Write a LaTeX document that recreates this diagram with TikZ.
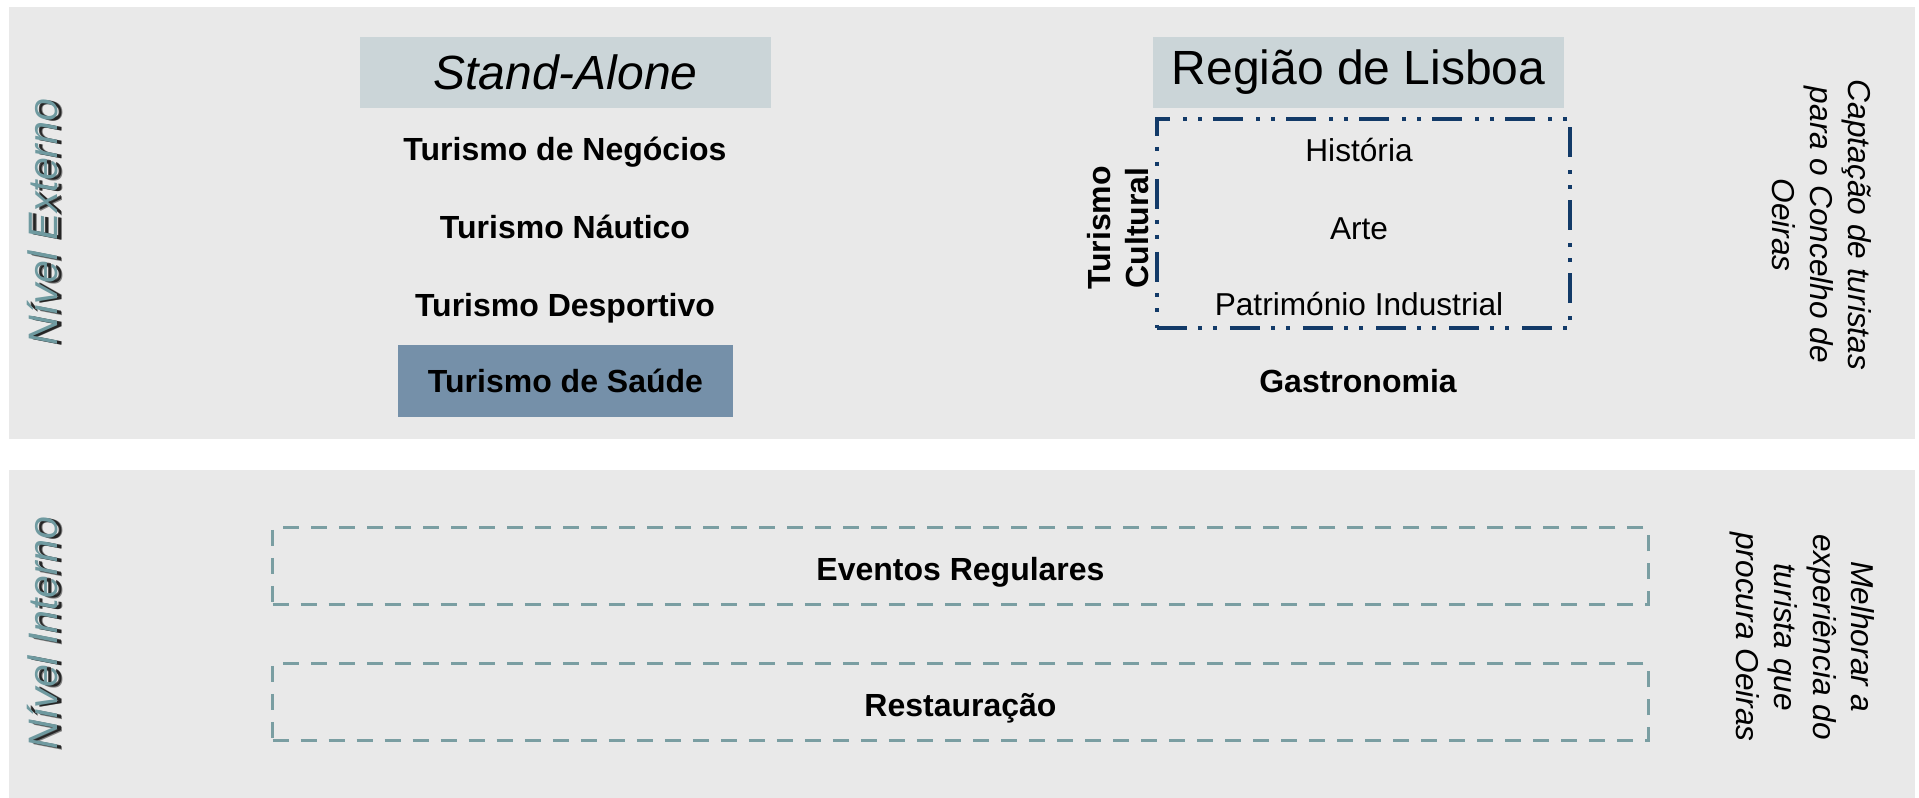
\documentclass[tikz,border=0pt]{standalone}
\usepackage{fontspec}
\setmainfont{Liberation Sans}
\definecolor{painel}{RGB}{233,233,233}
\definecolor{cabec}{RGB}{203,213,216}
\definecolor{saude}{RGB}{117,144,169}
\definecolor{marinho}{RGB}{18,58,104}
\definecolor{tracejado}{RGB}{122,158,162}
\definecolor{nivelcor}{RGB}{111,154,160}
\def\painel{\fill[painel]}
\def\fsz#1#2{\fontsize{#1}{#2}\selectfont}
\tikzset{
  item/.style={inner sep=0pt,font=\fsz{9.1}{10.5}\bfseries},
  sub/.style={inner sep=0pt,font=\fsz{9}{10.5}},
  cabecalho/.style={fill=cabec,inner sep=0pt,minimum width=4.11cm,minimum height=0.71cm,font=\fsz{13.65}{16}},
  nivel/.style={rotate=90,inner sep=0pt,text=nivelcor,font=\fsz{11.7}{14}\itshape},
  sombra/.style={nivel,text=black,opacity=#1},
  objetivo/.style={rotate=-90,inner sep=0pt,align=center,font=\fsz{9}{#1}\itshape},
  caixa/.style={draw=tracejado,line width=0.03cm,dash pattern=on 0.16cm off 0.12cm,minimum width=13.75cm,minimum height=0.76cm,inner sep=0pt}
}
\begin{document}
\begin{tikzpicture}[x=0.01cm,y=-0.01cm]
\useasboundingbox (0,0) rectangle (1919,798);
\painel (9,7) rectangle (1915,439);
\painel (9,470) rectangle (1915,798);

\node[sombra=0.45] (extsh2) at (48,223.5) {Nível Externo};
\node[sombra=0.7] (extsh) at (46.5,223) {Nível Externo};
\node[nivel] (ext) at (43,222) {Nível Externo};
\node[sombra=0.45] (intsh2) at (48,634.5) {Nível Interno};
\node[sombra=0.7] (intsh) at (46.5,634) {Nível Interno};
\node[nivel] (int) at (43,633) {Nível Interno};

\node[cabecalho] (stand) at (565.5,72.5) {\itshape Stand-Alone};
\node[item] (neg) at (565,152.5) {Turismo de Negócios};
\node[item] (nau) at (565,227) {Turismo Náutico};
\node[item] (desp) at (565,308) {Turismo Desportivo};
\node[item,fill=saude,minimum width=3.35cm,minimum height=0.72cm] (saude) at (565.5,381) {Turismo de Saúde};

\node[cabecalho] (lisboa) at (1358.5,72.5) {Região de Lisboa};
\node[draw=marinho,line width=0.035cm,dash pattern=on 0.30cm off 0.11cm on 0.04cm off 0.11cm on 0.04cm off 0.13cm,minimum width=4.13cm,minimum height=2.09cm,inner sep=0pt] (cult) at (1363.5,223.5) {};
\node[sub] (hist) at (1359,150) {História};
\node[sub] (arte) at (1359,229) {Arte};
\node[sub] (patr) at (1359,304) {Património Industrial};
\node[item,rotate=90,align=center,font=\fsz{9.1}{10.6}\bfseries] (turcult) at (1118,228) {Turismo\\Cultural};
\node[item] (gastro) at (1358,381) {Gastronomia};

\node[caixa] (eventos) at (960.5,566) {};
\node[item,yshift=-0.06cm] (eventostxt) at (eventos) {Eventos Regulares};
\node[caixa] (rest) at (960.5,702) {};
\node[item,yshift=-0.06cm] (resttxt) at (rest) {Restauração};

\node[objetivo=10.8] (captacao) at (1822,225) {Captação de turistas\\para o Concelho de\\Oeiras};
\node[objetivo=10.9] (melhorar) at (1802,637) {Melhorar a\\experiência do\\turista que\\procura Oeiras};
\end{tikzpicture}
\end{document}
